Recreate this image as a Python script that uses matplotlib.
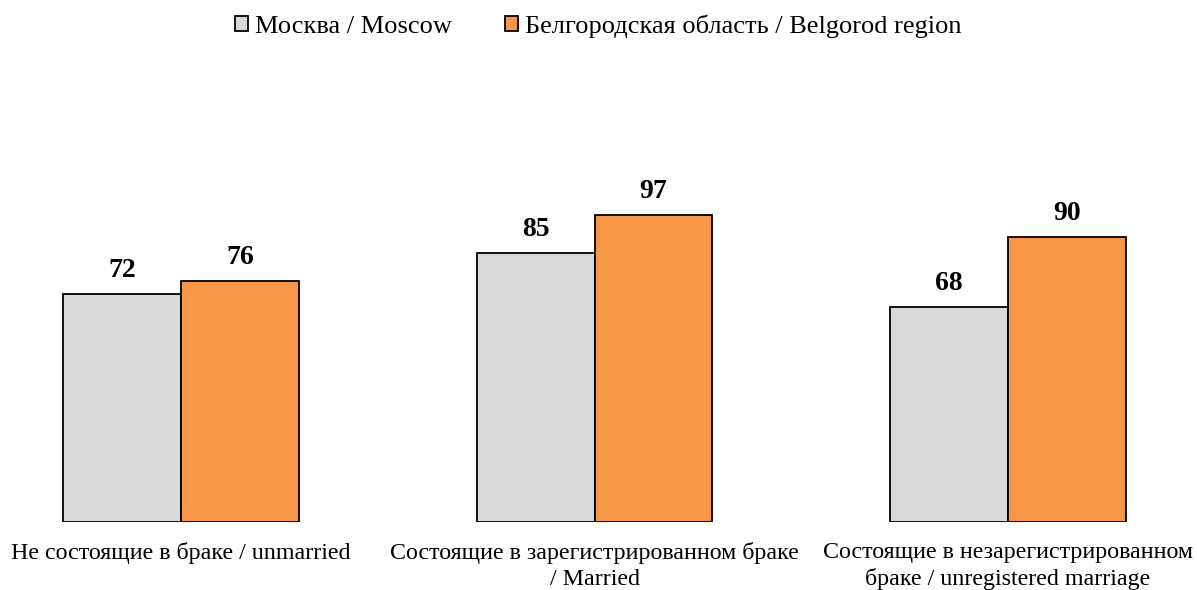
import matplotlib
matplotlib.use("Agg")
import matplotlib.pyplot as plt
import numpy as np

# data
categories = [
    "Не состоящие в браке / unmarried",
    "Состоящие в зарегистрированном браке\n/ Married",
    "Состоящие в незарегистрированном\nбраке / unregistered marriage",
]
series_names = ["Москва / Moscow", "Белгородская область / Belgorod region"]
moscow = [72, 85, 68]
belgorod = [76, 97, 90]

colors = ["#d9d9d9", "#f79646"]

plt.rcParams["font.family"] = ["Liberation Serif", "DejaVu Serif"]

fig = plt.figure(figsize=(11.97, 5.9), dpi=100)
ax = fig.add_axes([0, 0.1153, 1, 0.644])

x = np.arange(len(categories))
width = 0.285

bars = []
for i, (vals, col, name) in enumerate(zip([moscow, belgorod], colors, series_names)):
    offs = (i - 0.5) * width
    b = ax.bar(x + offs, vals, width, color=col, edgecolor="black",
               linewidth=1.3, label=name)
    bars.append(b)
    for xi, v in zip(x + offs, vals):
        ax.annotate(str(v), (xi, v), xytext=(0, 8), textcoords="offset points",
                    ha="center", va="bottom", fontsize=20, fontweight="bold")

ax.set_xlim(-181 / 413.5, (1197 - 181) / 413.5)
ax.set_ylim(0, 120)
ax.set_xticks([])
ax.set_yticks([])
for s in ax.spines.values():
    s.set_visible(False)

# category labels under each group
for xi, lab in zip(x, categories):
    ax.annotate(lab, (xi, 0), xytext=(0, -14.5), textcoords="offset points",
                ha="center", va="top", fontsize=17.3, linespacing=1.3)

leg = fig.legend(handles=bars, labels=series_names, loc="center",
                 bbox_to_anchor=(0.5, 0.956), ncol=2, frameon=False,
                 fontsize=19, handlelength=0.5, handleheight=0.5,
                 handletextpad=0.27, columnspacing=2.0)

fig.savefig("out.png", dpi=100)
